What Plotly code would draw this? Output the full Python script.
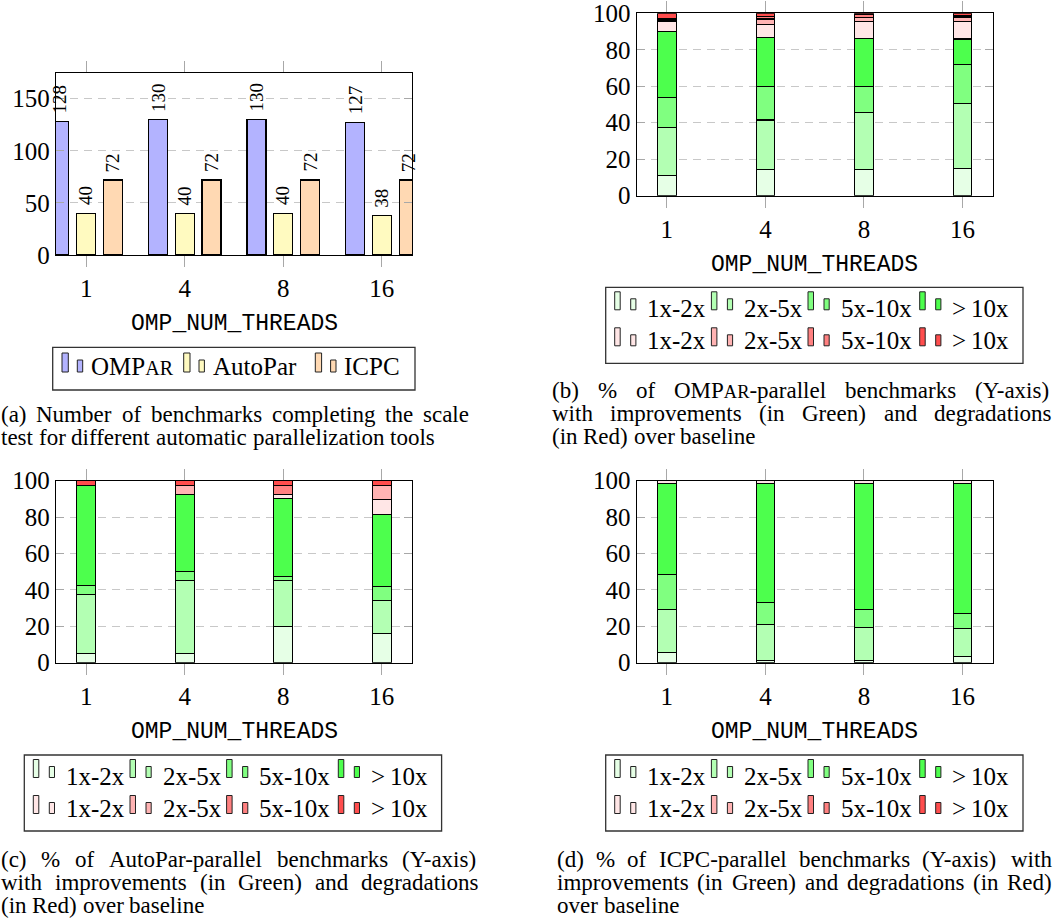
import plotly.graph_objects as go

W, H = 1060, 924
SERIF = "Liberation Serif"
MONO = "Liberation Mono"

# ---------------- data ----------------
threads = ["1", "4", "8", "16"]
tool_names = ["OMP{AR}", "AutoPar", "ICPC"]
bench_ompar = [128, 130, 130, 127]
bench_autopar = [40, 40, 40, 38]
bench_icpc = [72, 72, 72, 72]

speed_levels = ["1x-2x", "2x-5x", "5x-10x", ">\u200910x"]

# (b) OMPar-parallel benchmarks, % improvements (green) / degradations (red)
ompar_imp_1_2 = [10.9, 14.6, 14.6, 15.0]
ompar_imp_2_5 = [26.6, 26.9, 30.8, 35.4]
ompar_imp_5_10 = [16.4, 18.5, 14.6, 21.3]
ompar_imp_10 = [35.9, 26.9, 26.2, 14.2]
ompar_deg_1_2 = [5.5, 6.9, 9.2, 9.4]
ompar_deg_2_5 = [0.8, 3.1, 2.3, 2.4]
ompar_deg_5_10 = [0.8, 1.5, 1.5, 0.8]
ompar_deg_10 = [3.1, 1.5, 0.8, 1.6]

# (c) AutoPar-parallel benchmarks
autopar_imp_1_2 = [5.0, 5.0, 20.0, 15.8]
autopar_imp_2_5 = [32.5, 40.0, 25.0, 18.4]
autopar_imp_5_10 = [5.0, 5.0, 2.5, 7.9]
autopar_imp_10 = [55.0, 42.5, 42.5, 39.5]
autopar_deg_1_2 = [0.0, 0.0, 2.5, 7.9]
autopar_deg_2_5 = [0.0, 5.0, 0.0, 7.9]
autopar_deg_5_10 = [0.0, 0.0, 5.0, 0.0]
autopar_deg_10 = [2.5, 2.5, 2.5, 2.6]

# (d) ICPC-parallel benchmarks
icpc_imp_1_2 = [5.6, 1.4, 1.4, 3.5]
icpc_imp_2_5 = [23.6, 19.4, 18.1, 15.2]
icpc_imp_5_10 = [19.4, 12.5, 9.7, 8.4]
icpc_imp_10 = [50.0, 65.3, 69.4, 71.4]
icpc_deg_1_2 = [1.4, 1.4, 1.4, 1.5]
icpc_deg_2_5 = [0.0, 0.0, 0.0, 0.0]
icpc_deg_5_10 = [0.0, 0.0, 0.0, 0.0]
icpc_deg_10 = [0.0, 0.0, 0.0, 0.0]

caption_a = ["(a) Number of benchmarks completing the scale",
             "test for different automatic parallelization tools"]
caption_b = ["(b) % of OMP{AR}-parallel benchmarks (Y-axis)",
             "with improvements (in Green) and degradations",
             "(in Red) over baseline"]
caption_c = ["(c) % of AutoPar-parallel benchmarks (Y-axis)",
             "with improvements (in Green) and degradations",
             "(in Red) over baseline"]
caption_d = ["(d) % of ICPC-parallel benchmarks (Y-axis) with",
             "improvements (in Green) and degradations (in Red)",
             "over baseline"]
axis_label = "OMP_NUM_THREADS"

# ---------------- styles ----------------
tool_colors = ["#b3b3ff", "#fffac0", "#ffd9b3"]
green_colors = ["#e6ffe6", "#b3ffb3", "#80ff80", "#4dff4d"]
red_colors = ["#ffe6e6", "#ffb3b3", "#ff8080", "#ff4d4d"]
AX = "#000000"
TICK = "#a8a8a8"
GRID = "#c8c8c8"
CAPTION_SIZE = 23


def fx(x):
    return x / W


def fy(y):
    return 1 - y / H


CW = {' ': 250, '(': 333, ')': 333, '%': 833, '-': 333, '>': 564, '.': 250, ',': 250,
      'a': 444, 'b': 500, 'c': 444, 'd': 500, 'e': 444, 'f': 333, 'g': 500, 'h': 500,
      'i': 278, 'j': 278, 'k': 500, 'l': 278, 'm': 778, 'n': 500, 'o': 500, 'p': 500,
      'q': 500, 'r': 333, 's': 389, 't': 278, 'u': 500, 'v': 500, 'w': 722, 'x': 500,
      'y': 500, 'z': 444, 'A': 722, 'C': 667, 'G': 722, 'I': 333, 'M': 889, 'N': 722,
      'O': 722, 'P': 556, 'R': 667, 'Y': 722}


def seg_parse(word):
    segs, buf, small = [], "", False
    for ch in word:
        if ch == "{":
            if buf:
                segs.append((buf, False))
            buf, small = "", True
        elif ch == "}":
            segs.append((buf, True))
            buf, small = "", False
        else:
            buf += ch
    if buf:
        segs.append((buf, small))
    return segs


def rich(text, size):
    out = ""
    for s, small in seg_parse(text):
        if small:
            out += "<span style='font-size:%.1fpx'>%s</span>" % (size * 0.8, s)
        else:
            out += s
    return out


def twidth(text, size):
    tot = 0
    for s, small in seg_parse(text):
        sz = size * 0.8 if small else size
        tot += sum(CW.get(ch, 500) for ch in s) * sz / 1000
    return tot


fig = go.Figure()
annotations = []
shapes = []

panels = [
    dict(left=56, right=412, top=72.7, bottom=255, ymax=175, dtick=50),
    dict(left=636.7, right=992.7, top=13.3, bottom=195.7, ymax=100, dtick=20),
    dict(left=56, right=412, top=480.7, bottom=662.7, ymax=100, dtick=20),
    dict(left=636.7, right=992.7, top=480.7, bottom=662.7, ymax=100, dtick=20),
]
layout_axes = {}
for i, p in enumerate(panels):
    sfx = "" if i == 0 else str(i + 1)
    layout_axes["xaxis" + sfx] = dict(
        domain=[fx(p["left"]), fx(p["right"])], anchor="y" + sfx,
        range=[-0.306, 3.306], tickmode="array",
        tickvals=list(range(len(threads))), ticktext=threads,
        ticks="outside", ticklen=11, tickwidth=1.3, tickcolor=TICK,
        showline=True, linecolor=AX, linewidth=1.3, mirror="ticks",
        showgrid=False, zeroline=False, fixedrange=True, automargin=False,
        tickfont=dict(family=SERIF, size=25, color="black"))
    layout_axes["yaxis" + sfx] = dict(
        domain=[fy(p["bottom"]), fy(p["top"])], anchor="x" + sfx,
        range=[0, p["ymax"]], tickmode="linear", tick0=0, dtick=p["dtick"],
        ticks="inside", ticklen=8, tickwidth=1.3, tickcolor=TICK,
        showline=True, linecolor=AX, linewidth=1.3, mirror="ticks",
        showgrid=True, gridcolor=GRID, gridwidth=1.2, griddash="8px,6px",
        zeroline=False, fixedrange=True, automargin=False,
        tickfont=dict(family=SERIF, size=25, color="black"))
    cx = (p["left"] + p["right"]) / 2
    annotations.append(dict(x=fx(cx), y=fy(p["bottom"] + 69), xref="paper", yref="paper",
                            text=axis_label, showarrow=False, xanchor="center",
                            yanchor="middle", borderpad=0,
                            font=dict(family=MONO, size=23, color="black")))

# ---------------- panel (a): grouped bars ----------------
group_offsets = [-0.272, 0.0, 0.272]
for vals, col, off in zip([bench_ompar, bench_autopar, bench_icpc], tool_colors, group_offsets):
    xs = [i + off for i in range(len(threads))]
    fig.add_trace(go.Bar(x=xs, y=vals, width=0.193, xaxis="x", yaxis="y",
                         marker=dict(color=col, line=dict(color="black", width=1.1)),
                         showlegend=False, hoverinfo="skip"))
    for x, v in zip(xs, vals):
        annotations.append(dict(x=x, y=v, xref="x", yref="y", text=str(v),
                                textangle=-90, showarrow=False, xanchor="center",
                                yanchor="bottom", yshift=7, borderpad=0,
                                font=dict(family=SERIF, size=19, color="black")))

# ---------------- panels (b)-(d): stacked bars ----------------
stack_sets = [
    ("2", [ompar_imp_1_2, ompar_imp_2_5, ompar_imp_5_10, ompar_imp_10],
     [ompar_deg_1_2, ompar_deg_2_5, ompar_deg_5_10, ompar_deg_10]),
    ("3", [autopar_imp_1_2, autopar_imp_2_5, autopar_imp_5_10, autopar_imp_10],
     [autopar_deg_1_2, autopar_deg_2_5, autopar_deg_5_10, autopar_deg_10]),
    ("4", [icpc_imp_1_2, icpc_imp_2_5, icpc_imp_5_10, icpc_imp_10],
     [icpc_deg_1_2, icpc_deg_2_5, icpc_deg_5_10, icpc_deg_10]),
]
for sfx, imps, degs in stack_sets:
    for vals, col in zip(imps + degs, green_colors + red_colors):
        fig.add_trace(go.Bar(x=list(range(len(threads))), y=vals, width=0.19,
                             xaxis="x" + sfx, yaxis="y" + sfx,
                             marker=dict(color=col, line=dict(color="black", width=1.1)),
                             showlegend=False, hoverinfo="skip"))

# ---------------- custom legends ----------------
def rect(x0, y0, x1, y1, fill, lw=1.0, lc="#222222"):
    shapes.append(dict(type="rect", xref="paper", yref="paper",
                       x0=fx(x0), x1=fx(x1), y0=fy(y1), y1=fy(y0),
                       fillcolor=fill, line=dict(color=lc, width=lw), layer="above"))


def legend_entry(tx, base, color, label, i1, i2, bot, h1, h2, size=25):
    rect(tx + i1[0], base - bot - h1, tx + i1[0] + i1[1], base - bot, color)
    rect(tx + i2[0], base - bot - h2, tx + i2[0] + i2[1], base - bot, color)
    annotations.append(dict(x=fx(tx), y=fy(base - 0.34 * size), xref="paper", yref="paper",
                            text=rich(label, size), showarrow=False, xanchor="left",
                            yanchor="middle", borderpad=0,
                            font=dict(family=SERIF, size=size, color="black")))


# legend (a)
shapes.append(dict(type="rect", xref="paper", yref="paper", x0=fx(52.7), x1=fx(415),
                   y0=fy(390), y1=fy(347.3), line=dict(color="#333333", width=1.3)))
for tx, col, lab in zip([90, 211.7, 343.3], tool_colors, tool_names):
    legend_entry(tx, 375, col, lab, (-28, 6.3), (-12.7, 5.4), 3, 19, 12)

# legends (b), (c), (d)
for bx, by in [(605.7, 287.3), (24.3, 755), (605.7, 755)]:
    shapes.append(dict(type="rect", xref="paper", yref="paper", x0=fx(bx), x1=fx(bx + 417.3),
                       y0=fy(by + 76), y1=fy(by), line=dict(color="#333333", width=1.3)))
    for row, (cols, bot) in enumerate([(green_colors, 7), (red_colors, 3)]):
        base = by + [29.5, 61.5][row]
        for tx, col, lab in zip([40.7, 137.4, 234, 345.7], cols, speed_levels):
            legend_entry(bx + tx, base, col, lab, (-31.7, 5.5), (-15.7, 5.2), bot, 18, 11)


# ---------------- captions (justified) ----------------
def add_caption(x0, x1, ys, lines, size=CAPTION_SIZE):
    for k, (line, yc) in enumerate(zip(lines, ys)):
        words = line.split(" ")
        ws = [twidth(w, size) for w in words]
        if k == len(lines) - 1 or len(words) == 1:
            gap = 0.25 * size
        else:
            gap = (x1 - x0 - sum(ws)) / (len(words) - 1)
        x = x0
        for w, ww in zip(words, ws):
            annotations.append(dict(x=fx(x), y=fy(yc), xref="paper", yref="paper",
                                    text=rich(w, size), showarrow=False, xanchor="left",
                                    yanchor="middle", borderpad=0,
                                    font=dict(family=SERIF, size=size, color="black")))
            x += ww + gap


add_caption(0, 468, [414, 437], caption_a)
add_caption(551, 1051, [390, 413, 436], caption_b)
add_caption(0, 478, [859, 882, 905], caption_c)
add_caption(556, 1051, [859, 882, 905], caption_d)

fig.update_layout(
    width=W, height=H, autosize=False,
    margin=dict(l=0, r=0, t=0, b=0, pad=0),
    paper_bgcolor="white", plot_bgcolor="white",
    barmode="stack", showlegend=False,
    annotations=annotations, shapes=shapes,
    font=dict(family=SERIF, color="black"),
    **layout_axes,
)

fig.write_html("out.html", config={"displayModeBar": False},
               post_script="document.body.style.margin='0px';document.body.style.padding='0px';")
